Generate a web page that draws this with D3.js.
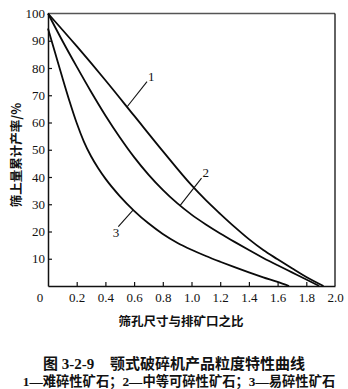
<!DOCTYPE html>
<html>
<head>
<meta charset="utf-8">
<script src="https://cdn.jsdelivr.net/npm/d3@7"></script>
<style>
  html, body { margin: 0; padding: 0; background: #fff; }
  svg { display: block; }
  .tick text { font-family: "Liberation Serif", "DejaVu Serif", serif; font-size: 13px; fill: #111; }
</style>
</head>
<body>
<svg id="chart" width="348" height="389"></svg>
<script>
// Ratio of sieve aperture to discharge opening (x) vs. cumulative oversize yield, %
const xTicks = [0.2, 0.4, 0.6, 0.8, 1.0, 1.2, 1.4, 1.6, 1.8, 2.0];
const yTicks = [10, 20, 30, 40, 50, 60, 70, 80, 90, 100];

// 1 — hard ore
const curve1 = [[0,100],[0.2,88],[0.4,75.5],[0.6,62.5],[0.8,49.5],[1.0,37],[1.1,31.5],[1.2,26.5],[1.3,21.7],[1.4,17.2],[1.5,13.2],[1.6,9.8],[1.7,6.5],[1.8,3.3],[1.92,0]];
// 2 — medium ore
const curve2 = [[0,100],[0.1,90],[0.2,80.5],[0.3,71.3],[0.4,62.6],[0.5,54.6],[0.6,47.3],[0.7,40.9],[0.8,35.3],[0.9,30.4],[1.0,26.2],[1.1,22.6],[1.2,19.3],[1.3,16.2],[1.4,13.2],[1.5,10.3],[1.6,7.6],[1.7,5.0],[1.8,2.4],[1.89,0]];
// 3 — easily crushed ore
const curve3 = [[0,94.5],[0.05,85.5],[0.1,76.5],[0.15,67.8],[0.2,59.8],[0.25,53],[0.3,47.6],[0.35,43.2],[0.4,39.4],[0.5,33],[0.6,27.6],[0.7,23],[0.8,19.1],[0.9,15.9],[1.0,13.3],[1.1,11.0],[1.2,8.9],[1.3,6.9],[1.4,5.0],[1.5,3.2],[1.6,1.5],[1.68,0]];

// curve labels with leader lines (data coordinates)
const curveNames = ["1", "2", "3"];
const leaderFrom = [[0.55, 65.7], [0.92, 29.5], [0.594, 27.9]];
const leaderTo   = [[0.69, 75],   [1.07, 39.6], [0.49, 21.8]];

const yTitle = "筛上量累计产率/%";
const xTitle = "筛孔尺寸与排矿口之比";
const figNo = "图 3-2-9";
const figTitle = "颚式破碎机产品粒度特性曲线";
const figNote = "1—难碎性矿石；2—中等可碎性矿石；3—易碎性矿石";

const svg = d3.select("#chart");
const plotL = 48, plotR = 335, plotT = 13.5, plotB = 286;

const x = d3.scaleLinear().domain([0, 2]).range([plotL, plotR]);
const y = d3.scaleLinear().domain([0, 100]).range([plotB, plotT]);

// frame: top and right edges
svg.append("line").attr("x1", plotL).attr("x2", plotR).attr("y1", plotT).attr("y2", plotT)
  .attr("stroke", "#555").attr("stroke-width", 1.4);
svg.append("line").attr("x1", plotR).attr("x2", plotR).attr("y1", plotT).attr("y2", plotB)
  .attr("stroke", "#222").attr("stroke-width", 1.4);

// x axis
const gx = svg.append("g").attr("transform", `translate(0,${plotB})`)
  .call(d3.axisBottom(x).tickValues(xTicks).tickFormat(d3.format(".1f"))
    .tickSizeInner(-4).tickSizeOuter(0).tickPadding(7));
gx.select(".domain").attr("stroke", "#111").attr("stroke-width", 1.5);
gx.selectAll(".tick line").attr("stroke", "#111").attr("stroke-width", 1.2);
gx.selectAll(".tick").filter(d => d === 2.0).select("line").remove();

// y axis
const gy = svg.append("g").attr("transform", `translate(${plotL},0)`)
  .call(d3.axisLeft(y).tickValues(yTicks)
    .tickSizeInner(-4).tickSizeOuter(0).tickPadding(3));
gy.select(".domain").attr("stroke", "#111").attr("stroke-width", 1.5);
gy.selectAll(".tick line").attr("stroke", "#111").attr("stroke-width", 1.2);
gy.selectAll(".tick").filter(d => d === 100).select("line").remove();

// shared origin label
svg.append("text").attr("x", x(0) - 8).attr("y", plotB + 7).attr("dy", "0.71em")
  .attr("text-anchor", "middle")
  .style("font-family", "'Liberation Serif', serif").style("font-size", "13px").attr("fill", "#111")
  .text("0");

// curves
const line = d3.line().x(d => x(d[0])).y(d => y(d[1])).curve(d3.curveMonotoneX);
[curve1, curve2, curve3].forEach(c => {
  svg.append("path").datum(c).attr("d", line)
    .attr("fill", "none").attr("stroke", "#0a0a0a").attr("stroke-width", 1.8);
});

// leader lines and numbers
curveNames.forEach((name, i) => {
  const a = leaderFrom[i], b = leaderTo[i];
  svg.append("line").attr("x1", x(a[0])).attr("y1", y(a[1])).attr("x2", x(b[0])).attr("y2", y(b[1]))
    .attr("stroke", "#111").attr("stroke-width", 1.1);
  const rightSide = b[0] > a[0];
  svg.append("text")
    .attr("x", x(b[0]) + 1)
    .attr("y", y(b[1]) + (rightSide ? -1 : 10))
    .attr("text-anchor", rightSide ? "start" : "end")
    .style("font-family", "'Liberation Serif', serif").style("font-size", "13px")
    .attr("fill", "#111").text(name);
});

// axis titles
svg.append("text")
  .attr("transform", `translate(17,155) rotate(-90)`)
  .attr("text-anchor", "middle").attr("dy", "0.35em")
  .style("font-family", "'Noto Sans CJK SC', sans-serif").style("font-size", "12.5px")
  .style("font-weight", "bold").attr("fill", "#111")
  .text(yTitle);

svg.append("text").attr("x", 181).attr("y", 326).attr("text-anchor", "middle")
  .style("font-family", "'Noto Sans CJK SC', sans-serif").style("font-size", "12.5px")
  .style("font-weight", "bold").attr("fill", "#111")
  .text(xTitle);

// figure caption
const cap = svg.append("text").attr("x", 43).attr("y", 369)
  .style("font-family", "'Liberation Serif', 'Noto Sans CJK SC', serif").style("font-size", "15px")
  .style("font-weight", "bold").attr("fill", "#111");
cap.append("tspan").text(figNo);
cap.append("tspan").attr("x", 110).text(figTitle);

svg.append("text").attr("x", 179).attr("y", 386).attr("text-anchor", "middle")
  .style("font-family", "'Liberation Serif', 'Noto Sans CJK SC', serif").style("font-size", "13.3px")
  .style("font-weight", "bold").attr("fill", "#111")
  .text(figNote);
</script>
</body>
</html>
